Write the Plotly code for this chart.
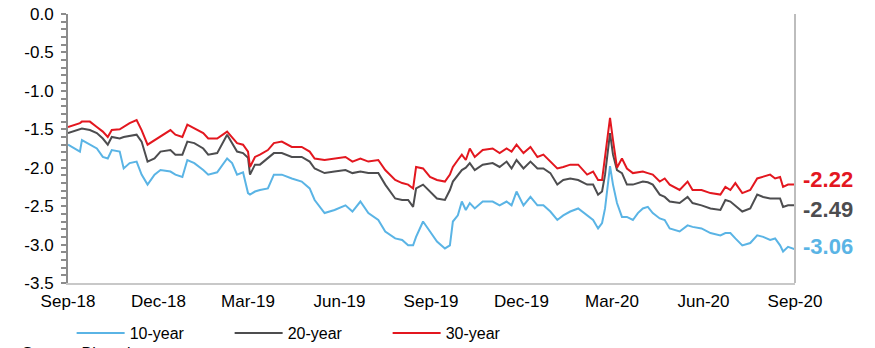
import plotly.graph_objects as go

# Real yields by maturity, % (approx. weekly readings)
dates = [
    "2018-09-01", "2018-09-13", "2018-09-15", "2018-09-23", "2018-09-30", "2018-10-06",
    "2018-10-11", "2018-10-15", "2018-10-23", "2018-10-27", "2018-11-02", "2018-11-09",
    "2018-11-14", "2018-11-20", "2018-11-27", "2018-12-03", "2018-12-13", "2018-12-18",
    "2018-12-25", "2018-12-30", "2019-01-06", "2019-01-15", "2019-01-20", "2019-01-29",
    "2019-02-08", "2019-02-13", "2019-02-18", "2019-02-24", "2019-03-01", "2019-03-03",
    "2019-03-08", "2019-03-13", "2019-03-21", "2019-03-27", "2019-04-04", "2019-04-14",
    "2019-04-24", "2019-05-02", "2019-05-07", "2019-05-17", "2019-05-27", "2019-06-07",
    "2019-06-14", "2019-06-22", "2019-06-30", "2019-07-10", "2019-07-17", "2019-07-27",
    "2019-08-03", "2019-08-09", "2019-08-14", "2019-08-17", "2019-08-24", "2019-08-31",
    "2019-09-07", "2019-09-15", "2019-09-20", "2019-09-23", "2019-09-28", "2019-10-02",
    "2019-10-06", "2019-10-10", "2019-10-15", "2019-10-23", "2019-11-02", "2019-11-09",
    "2019-11-16", "2019-11-21", "2019-11-26", "2019-12-03", "2019-12-10", "2019-12-17",
    "2019-12-23", "2019-12-30", "2020-01-06", "2020-01-12", "2020-01-19", "2020-01-27",
    "2020-02-05", "2020-02-11", "2020-02-16", "2020-02-20", "2020-02-23", "2020-02-28",
    "2020-03-02", "2020-03-06", "2020-03-11", "2020-03-16", "2020-03-22", "2020-03-27",
    "2020-04-01", "2020-04-06", "2020-04-11", "2020-04-18", "2020-04-23", "2020-04-28",
    "2020-05-08", "2020-05-16", "2020-05-21", "2020-05-30", "2020-06-08", "2020-06-18",
    "2020-06-23", "2020-06-28", "2020-07-03", "2020-07-10", "2020-07-18", "2020-07-25",
    "2020-07-31", "2020-08-07", "2020-08-12", "2020-08-17", "2020-08-20", "2020-08-25",
    "2020-09-01",
]

yield_10y = [
    -1.70, -1.79, -1.64, -1.70, -1.75, -1.86, -1.88, -1.77, -1.79, -2.01, -1.94, -1.92,
    -2.09, -2.22, -2.09, -2.03, -2.05, -2.09, -2.12, -1.90, -1.94, -2.03, -2.09, -2.06,
    -1.88, -1.94, -2.09, -2.06, -2.33, -2.35, -2.31, -2.29, -2.27, -2.09, -2.09, -2.14,
    -2.18, -2.27, -2.42, -2.59, -2.55, -2.49, -2.57, -2.44, -2.59, -2.68, -2.83, -2.92,
    -2.94, -3.01, -3.01, -2.90, -2.70, -2.83, -2.96, -3.05, -3.01, -2.70, -2.62, -2.44,
    -2.55, -2.46, -2.53, -2.44, -2.44, -2.49, -2.44, -2.49, -2.31, -2.49, -2.38, -2.49,
    -2.49, -2.57, -2.68, -2.62, -2.57, -2.53, -2.62, -2.68, -2.79, -2.72, -2.53, -1.98,
    -2.22, -2.46, -2.64, -2.64, -2.68, -2.59, -2.53, -2.51, -2.59, -2.66, -2.68, -2.79,
    -2.83, -2.75, -2.77, -2.79, -2.85, -2.88, -2.85, -2.85, -2.92, -3.01, -2.98, -2.88,
    -2.90, -2.94, -2.92, -3.01, -3.09, -3.03, -3.06,
]

yield_20y = [
    -1.55, -1.50, -1.49, -1.51, -1.55, -1.62, -1.70, -1.60, -1.62, -1.60, -1.59, -1.57,
    -1.66, -1.92, -1.88, -1.79, -1.77, -1.83, -1.83, -1.66, -1.68, -1.75, -1.83, -1.81,
    -1.57, -1.68, -1.79, -1.81, -1.87, -2.09, -1.96, -1.96, -1.88, -1.81, -1.81, -1.86,
    -1.86, -1.92, -2.01, -2.07, -2.05, -2.03, -2.07, -2.05, -2.07, -2.07, -2.22, -2.40,
    -2.42, -2.42, -2.51, -2.27, -2.22, -2.31, -2.40, -2.42, -2.29, -2.18, -2.09, -2.03,
    -2.00, -1.94, -2.03, -1.96, -1.94, -1.99, -1.92, -2.01, -1.90, -2.01, -1.92, -2.01,
    -2.01, -2.07, -2.22, -2.16, -2.14, -2.16, -2.22, -2.22, -2.35, -2.31, -2.09, -1.55,
    -1.83, -2.03, -2.07, -2.22, -2.22, -2.20, -2.18, -2.19, -2.22, -2.35, -2.38, -2.44,
    -2.46, -2.38, -2.46, -2.49, -2.53, -2.55, -2.42, -2.44, -2.49, -2.57, -2.53, -2.35,
    -2.38, -2.40, -2.40, -2.40, -2.51, -2.49, -2.49,
]

yield_30y = [
    -1.47, -1.42, -1.40, -1.40, -1.47, -1.53, -1.60, -1.51, -1.50, -1.47, -1.42, -1.38,
    -1.51, -1.70, -1.64, -1.60, -1.51, -1.57, -1.60, -1.44, -1.49, -1.55, -1.62, -1.62,
    -1.53, -1.60, -1.68, -1.70, -1.79, -1.99, -1.86, -1.83, -1.77, -1.68, -1.66, -1.73,
    -1.73, -1.79, -1.88, -1.90, -1.88, -1.86, -1.92, -1.88, -1.92, -1.90, -2.03, -2.16,
    -2.20, -2.22, -2.27, -1.99, -2.01, -2.12, -2.16, -2.18, -2.09, -1.99, -1.90, -1.83,
    -1.90, -1.75, -1.86, -1.77, -1.75, -1.81, -1.75, -1.79, -1.70, -1.81, -1.73, -1.86,
    -1.83, -1.92, -2.01, -1.99, -1.96, -1.96, -2.09, -2.05, -2.16, -2.16, -1.88, -1.35,
    -1.64, -2.00, -1.88, -2.01, -2.07, -2.06, -2.05, -2.07, -2.09, -2.18, -2.14, -2.22,
    -2.29, -2.18, -2.29, -2.29, -2.33, -2.35, -2.25, -2.29, -2.20, -2.33, -2.29, -2.14,
    -2.12, -2.09, -2.14, -2.12, -2.25, -2.22, -2.22,
]

series_names = ["10-year", "20-year", "30-year"]
series_colors = ["#5AB4E5", "#4D4D4F", "#E3171F"]

tick_dates = ["2018-09-01", "2018-12-01", "2019-03-01", "2019-06-01", "2019-09-01",
              "2019-12-01", "2020-03-01", "2020-06-01", "2020-09-01"]
tick_labels = ["Sep-18", "Dec-18", "Mar-19", "Jun-19", "Sep-19",
               "Dec-19", "Mar-20", "Jun-20", "Sep-20"]
y_ticks = [0.0, -0.5, -1.0, -1.5, -2.0, -2.5, -3.0, -3.5]
y_tick_labels = ["0.0", "-0.5", "-1.0", "-1.5", "-2.0", "-2.5", "-3.0", "-3.5"]

FONT = "Liberation Sans, Arial, sans-serif"
x_range = ["2018-09-01", "2020-09-01"]

fig = go.Figure()
for name, ys, col in zip(series_names, [yield_10y, yield_20y, yield_30y], series_colors):
    fig.add_trace(go.Scatter(x=dates, y=ys, mode="lines", name=name,
                             line=dict(color=col, width=2)))

# End-of-period value labels
label_shift = [3, -4, 5]
for ys, col, sh in zip([yield_10y, yield_20y, yield_30y], series_colors, label_shift):
    fig.add_annotation(x=dates[-1], y=ys[-1], text=f"{ys[-1]:.2f}", showarrow=False,
                       xanchor="left", xshift=6, yshift=sh,
                       font=dict(family=FONT, size=22, color=col, weight="bold"))

# Source line sits at the very bottom edge of the page
fig.add_annotation(xref="paper", yref="paper", x=-0.066, y=-0.262, xanchor="left",
                   yanchor="middle", text="Source: Bloomberg", showarrow=False,
                   font=dict(family=FONT, size=16, color="#000000"))

# Right border of the plot area
fig.add_shape(type="line", xref="paper", yref="paper", x0=1, x1=1, y0=0, y1=1,
              line=dict(color="#BDBDBD", width=2))

fig.update_layout(
    width=875, height=348,
    margin=dict(l=68, r=80, t=14, b=65, autoexpand=False),
    paper_bgcolor="white", plot_bgcolor="white",
    font=dict(family=FONT, size=16, color="#000000"),
    showlegend=True,
    legend=dict(orientation="h", x=0.005, y=0.092, yref="container",
                xanchor="left", yanchor="top",
                entrywidth=95, entrywidthmode="pixels",
                font=dict(family=FONT, size=16), itemwidth=48,
                bgcolor="rgba(0,0,0,0)"),
    xaxis=dict(type="date", range=x_range, tickvals=tick_dates, ticktext=tick_labels,
               showgrid=False, zeroline=False, showline=True, linecolor="#C8C8C8",
               linewidth=2, ticks="", ticklabelstandoff=2,
               tickfont=dict(family=FONT, size=17)),
    xaxis2=dict(type="date", range=x_range, overlaying="x", side="top",
                tickvals=tick_dates, showticklabels=False, showgrid=False,
                showline=True, linecolor="#8C8C8C", linewidth=2,
                ticks="outside", ticklen=4, tickcolor="#8C8C8C", tickwidth=2),
    xaxis3=dict(type="date", range=x_range, overlaying="x", side="top",
                tickvals=tick_dates, showticklabels=False, showgrid=False,
                showline=False, ticks="inside", ticklen=4, tickcolor="#8C8C8C",
                tickwidth=2),
    yaxis=dict(range=[-3.5, 0], tickvals=y_ticks, ticktext=y_tick_labels,
               showgrid=False, zeroline=False, showline=True, linecolor="#8C8C8C",
               linewidth=2, ticks="outside", ticklen=5, tickcolor="#8C8C8C",
               tickwidth=2, ticklabelstandoff=4,
               minor=dict(dtick=0.1, ticks="outside", ticklen=5, tickcolor="#8C8C8C",
                          tickwidth=1.5),
               tickfont=dict(family=FONT, size=17)),
)

fig.write_html("out.html")
